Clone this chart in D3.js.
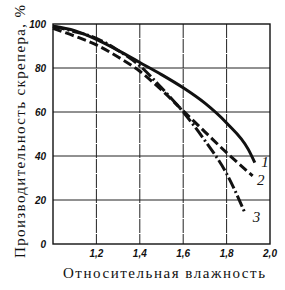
<!DOCTYPE html>
<html lang="ru">
<head>
  <meta charset="UTF-8">
  <title>Производительность скрепера</title>
  <style>
    body { margin: 0; background: #fff; }
    svg { display: block; }
    .tick-lbl { font-family: "Liberation Sans", sans-serif; font-style: italic; font-weight: bold; font-size: 10px; fill: #111; }
    .title { font-family: "Liberation Serif", "DejaVu Serif", serif; font-size: 15px; fill: #111; }
    .num { font-family: "Liberation Serif", serif; font-style: italic; font-size: 15px; fill: #111; }
  </style>
</head>
<body>
  <svg id="chart" width="285" height="290"></svg>
  <script src="https://d3js.org/d3.v7.min.js"></script>
  <script>
    // values
    const xTicks = [1.2, 1.4, 1.6, 1.8, 2.0];
    const yTicks = [0, 20, 40, 60, 80, 100];

    const x1 = [1.0, 1.1, 1.2, 1.3, 1.4, 1.5, 1.6, 1.7, 1.8, 1.9, 1.93];
    const y1 = [99, 97, 93, 88, 82.5, 77, 71, 64, 55, 43, 37];

    const x2 = [1.0, 1.1, 1.2, 1.3, 1.4, 1.5, 1.6, 1.7, 1.8, 1.92];
    const y2 = [98, 94.5, 90.5, 85, 78.5, 70, 60.5, 51, 41.5, 31];

    const x3 = [1.0, 1.1, 1.2, 1.3, 1.4, 1.5, 1.6, 1.7, 1.8, 1.885];
    const y3 = [99, 96.5, 93.5, 88, 81, 71, 60, 47, 32, 14];

    const curveLabels = ["1", "2", "3"];

    const svg = d3.select("#chart");
    const m = { left: 53, right: 270, top: 24, bottom: 244 };

    const x = d3.scaleLinear().domain([1.0, 2.0]).range([m.left, m.right]);
    const y = d3.scaleLinear().domain([0, 100]).range([m.bottom, m.top]);
    const fmt = d => d3.format(".1f")(d).replace(".", ",");

    // grid
    svg.append("g").selectAll("line")
      .data(xTicks.slice(0, -1))
      .enter().append("line")
      .attr("x1", d => x(d)).attr("x2", d => x(d))
      .attr("y1", m.top).attr("y2", m.bottom)
      .attr("stroke", "#222").attr("stroke-width", 1)
      .attr("stroke-dasharray", "14,1");

    svg.append("g").selectAll("line")
      .data(yTicks.slice(1, -1))
      .enter().append("line")
      .attr("x1", m.left).attr("x2", m.right)
      .attr("y1", d => y(d)).attr("y2", d => y(d))
      .attr("stroke", "#222").attr("stroke-width", 1);

    // frame
    svg.append("rect")
      .attr("x", m.left).attr("y", m.top)
      .attr("width", m.right - m.left).attr("height", m.bottom - m.top)
      .attr("fill", "none").attr("stroke", "#111").attr("stroke-width", 1.4);

    // tick labels
    svg.append("g").selectAll("text")
      .data(yTicks)
      .enter().append("text")
      .attr("class", "tick-lbl")
      .attr("x", m.left - 7).attr("y", d => y(d) + 4)
      .attr("text-anchor", "end")
      .text(d => d);

    svg.append("g").selectAll("text")
      .data(xTicks)
      .enter().append("text")
      .attr("class", "tick-lbl")
      .attr("x", d => x(d)).attr("y", m.bottom + 13)
      .attr("text-anchor", "middle")
      .text(fmt);

    // curves
    const line = d3.line().x(d => x(d[0])).y(d => y(d[1])).curve(d3.curveMonotoneX);
    const series = [
      { pts: d3.zip(x1, y1), dash: null },
      { pts: d3.zip(x2, y2), dash: "9,4" },
      { pts: d3.zip(x3, y3), dash: "12,3,2,3" }
    ];
    svg.append("g").selectAll("path")
      .data(series)
      .enter().append("path")
      .attr("d", d => line(d.pts))
      .attr("fill", "none")
      .attr("stroke", "#111")
      .attr("stroke-width", 3)
      .attr("stroke-dasharray", d => d.dash);

    // curve numbers
    const labelPos = [[1.96, 35], [1.94, 27], [1.92, 10]];
    svg.append("g").selectAll("text")
      .data(curveLabels)
      .enter().append("text")
      .attr("class", "num")
      .attr("x", (d, i) => x(labelPos[i][0]))
      .attr("y", (d, i) => y(labelPos[i][1]))
      .text(d => d);

    // axis titles
    svg.append("text")
      .attr("class", "title")
      .attr("x", 63).attr("y", 278)
      .attr("textLength", 202)
      .text("Относительная влажность");

    svg.append("text")
      .attr("class", "title")
      .attr("transform", "translate(25,258) rotate(-90)")
      .attr("textLength", 253)
      .text("Производительность скрепера, %");
  </script>
</body>
</html>
